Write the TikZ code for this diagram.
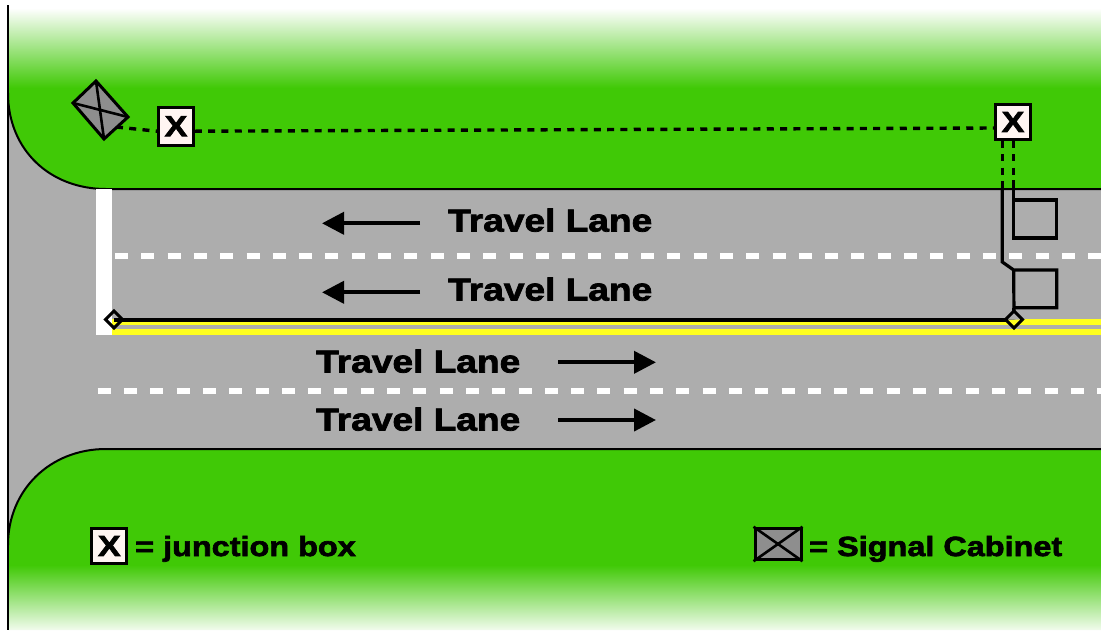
\documentclass[tikz,border=0pt]{standalone}
\usepackage{fontspec}
\setmainfont{Liberation Sans}[BoldFont={Liberation Sans Bold},BoldFeatures={FakeBold=2.4,FakeStretch=1.17}]
\usetikzlibrary{arrows.meta,calc}
\definecolor{grassgreen}{HTML}{40C906}
\definecolor{roadgray}{HTML}{ADADAD}
\definecolor{cabgray}{HTML}{8E8E8E}
\definecolor{boxfill}{HTML}{FFF5F2}
\definecolor{lineyellow}{HTML}{FFFF1E}
\tikzset{
  x=1pt,y=-1pt,
  jbox/.style={draw=black,line width=3pt,fill=boxfill,minimum width=34.7pt,minimum height=35pt,inner sep=0pt,font=\bfseries\fontsize{29}{29}\selectfont},
  lanelabel/.style={anchor=base west,inner sep=0pt,font=\bfseries\fontsize{31.7}{32}\selectfont},
  legendlabel/.style={anchor=base west,inner sep=0pt,font=\bfseries\fontsize{27.7}{28}\selectfont},
  wire/.style={line width=3.2pt},
  buried/.style={line width=3.4pt,dash pattern=on 7pt off 6.3pt},
  laneline/.style={white,line width=6pt,dash pattern=on 13pt off 13.3pt},
  yellowline/.style={lineyellow,line width=6pt},
  travel/.style={line width=4pt,-{Triangle[length=22pt,width=22pt]}},
  curb/.style={draw=black,line width=2pt},
  diamondmark/.style={draw=black,line width=3pt,line join=miter},
  cabinet/.style={draw=black,line width=3pt,fill=cabgray}
}
\begin{document}
\begin{tikzpicture}
\useasboundingbox (0,0) rectangle (1101,630);
% road
\fill[roadgray] (8,90) rectangle (1101,545);
% top verge
\begin{scope}
  \clip (8,0) -- (8,93) .. controls (8,150) and (50,189) .. (106,189) -- (1101,189) -- (1101,0) -- cycle;
  \fill[grassgreen] (0,80) rectangle (1101,189);
  \shade[top color=white,bottom color=grassgreen] (0,8) rectangle (1101,88);
\end{scope}
\draw[curb] (8,93) .. controls (8,150) and (50,189) .. (106,189) -- (1101,189);
% bottom verge
\begin{scope}
  \clip (8,630) -- (8,545) .. controls (8,490) and (50,449) .. (106,449) -- (1101,449) -- (1101,630) -- cycle;
  \fill[grassgreen] (0,449) rectangle (1101,566);
  \shade[top color=grassgreen,bottom color=white] (0,565) rectangle (1101,635);
\end{scope}
\draw[curb] (8,545) .. controls (8,490) and (50,449) .. (106,449) -- (1101,449);
% left edge
\draw[black,line width=2.2pt] (8,5) -- (8,630);
% pavement markings
\fill[white] (96,189) rectangle (112.3,335);
\draw[laneline] (115,256.3) -- (1101,256.3);
\draw[laneline] (97.7,391) -- (1101,391);
\draw[yellowline] (112,322) -- (1101,322);
\draw[yellowline] (112,332.3) -- (1101,332.3);
% named anchors
\coordinate (dL) at (114,319.5);
\coordinate (dR) at (1014,319.5);
\node[jbox,minimum height=38pt] (box1) at (176,126.2) {X};
\node[jbox] (box2) at (1013,122) {X};
\coordinate (cabN) at (96,81);
\coordinate (cabE) at (128,117);
\coordinate (cabS) at (104,139);
\coordinate (cabW) at (73,103);
\coordinate (cabOut) at (116,127);
\coordinate (w1a) at (1002.3,141);
\coordinate (w1b) at (1002.3,189);
\coordinate (w1c) at (1002.3,262);
\coordinate (w2a) at (1013.7,141);
\coordinate (w2b) at (1013.7,180);
% buried wires
\draw[buried] (cabOut) -- ($(box1.west)+(0,5)$);
\draw[buried] ($(box1.east)+(0,5)$) -- ($(box2.west)+(0,6)$);
\draw[buried] (w1a) -- (w1b);
\draw[buried] (w2a) -- (w2b);
% cabinet
\draw[cabinet,line join=miter] (cabN) -- (cabE) -- (cabS) -- (cabW) -- cycle;
\draw[black,line width=2.6pt] (cabN) -- (cabS) (cabE) -- (cabW);
% loops
\draw[wire,line join=miter] (w2b) -- (1013.7,200) -- (1056.7,200) -- (1056.7,238) -- (1013.7,238) -- (1013.7,200);
\draw[wire,line join=miter] (w1b) -- (w1c) -- (1013.7,270) -- (1056.7,270) -- (1056.7,307.7) -- (1013.7,307.7);
\draw[wire] (1013.7,270) -- (dR);
\draw[line width=4pt] (dL) -- (dR);
\draw[diamondmark] (dL) ++(0,-8.5) -- ++(8.5,8.5) -- ++(-8.5,8.5) -- ++(-8.5,-8.5) -- cycle;
\fill[lineyellow] (dR) ++(-7,0) -- ++(14,0) -- ++(-7,7) -- cycle;
\fill[roadgray] (dR) ++(0,-8.5) -- ++(8.5,8.5) -- ++(-17,0) -- cycle;
\draw[wire] (1013.7,307.7) -- (1013.7,312);
\draw[diamondmark] (dR) ++(0,-8.5) -- ++(8.5,8.5) -- ++(-8.5,8.5) -- ++(-8.5,-8.5) -- cycle;
% direction arrows
\coordinate (a1t) at (420,223.3); \coordinate (a1h) at (322,223.3);
\coordinate (a2t) at (420,292.3); \coordinate (a2h) at (322,292.3);
\coordinate (a3t) at (558,362.3); \coordinate (a3h) at (656,362.3);
\coordinate (a4t) at (558,420);   \coordinate (a4h) at (656,420);
\draw[travel] (a1t) -- (a1h);
\draw[travel] (a2t) -- (a2h);
\draw[travel] (a3t) -- (a3h);
\draw[travel] (a4t) -- (a4h);
% lane labels
\node[lanelabel] (l1) at (448,231.5) {Travel Lane};
\node[lanelabel] (l2) at (448,300.5) {Travel Lane};
\node[lanelabel] (l3) at (316,372.5) {Travel Lane};
\node[lanelabel] (l4) at (316,430.5) {Travel Lane};
% legend
\node[jbox] (legbox) at (109.3,546) {X};
\node[legendlabel] (legj) at (135,556) {= junction box};
\node[cabinet,minimum width=46pt,minimum height=31.5pt,inner sep=0pt] (legcab) at (778,544) {};
\draw[black,line width=2.6pt] (legcab.north west) -- (legcab.south east) (legcab.north east) -- (legcab.south west);
\node[legendlabel] (legs) at (809,556) {= Signal Cabinet};
\end{tikzpicture}
\end{document}
